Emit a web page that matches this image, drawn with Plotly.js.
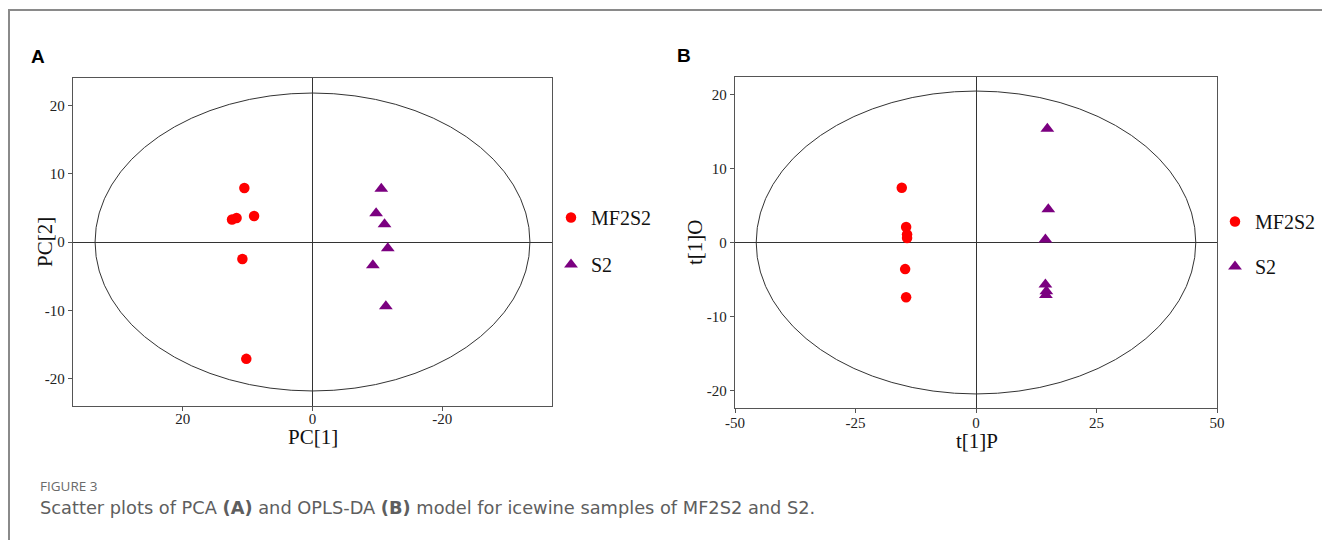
<!DOCTYPE html>
<html>
<head>
<meta charset="utf-8">
<script src="https://cdn.plot.ly/plotly-3.0.1.min.js"></script>
<style>
  html, body { margin: 0; padding: 0; background: #ffffff; }
  #chart { width: 1322px; height: 540px; }
</style>
</head>
<body>
<div id="chart"></div>
<script>
// ---- Panel A: PCA scores ----
const pcaGroups = ["MF2S2", "S2"];
const pcaMF2S2_PC1 = [10.5, 12.4, 11.7, 9.0, 10.8, 10.2];
const pcaMF2S2_PC2 = [7.9, 3.3, 3.5, 3.8, -2.5, -17.1];
const pcaS2_PC1 = [-10.6, -9.8, -11.1, -11.6, -9.3, -11.3];
const pcaS2_PC2 = [7.8, 4.2, 2.6, -0.9, -3.4, -9.4];
const pcaEllipse = { a: 33.5, b: 21.8 };   // Hotelling T2 ellipse half-axes
const pcaXTicks = [20, 0, -20];
const pcaXTickText = ["20", "0", "-20"];
const pcaYTicks = [20, 10, 0, -10, -20];
const pcaYTickText = ["20", "10", "0", "-10", "-20"];

// ---- Panel B: OPLS-DA scores ----
const oplsMF2S2_t1P = [-15.4, -14.5, -14.3, -14.3, -14.7, -14.5];
const oplsMF2S2_t1O = [7.4, 2.1, 1.1, 0.6, -3.6, -7.4];
const oplsS2_t1P = [14.8, 15.0, 14.4, 14.4, 14.6, 14.5];
const oplsS2_t1O = [15.4, 4.5, 0.4, -5.7, -6.6, -7.1];
const oplsEllipse = { a: 45.6, b: 20.5 };
const oplsXTicks = [-50, -25, 0, 25, 50];
const oplsXTickText = ["-50", "-25", "0", "25", "50"];
const oplsYTicks = [20, 10, 0, -10, -20];
const oplsYTickText = ["20", "10", "0", "-10", "-20"];

const W = 1322, H = 540;
const px = v => v / W;
const py = v => 1 - v / H;

const RED = "#ff0000", PURPLE = "#7b0080";
const serif = "Liberation Serif, Times New Roman, serif";

const circleMarker = { symbol: "circle", size: 10.5, color: RED };
const triMarker = { symbol: "triangle-up", size: 12, color: PURPLE };

const traces = [
  { type: "scatter", mode: "markers", name: pcaGroups[0], x: pcaMF2S2_PC1, y: pcaMF2S2_PC2,
    xaxis: "x", yaxis: "y", marker: circleMarker, legend: "legend", legendgroup: "a1" },
  { type: "scatter", mode: "markers", name: pcaGroups[1], x: pcaS2_PC1, y: pcaS2_PC2,
    xaxis: "x", yaxis: "y", marker: triMarker, legend: "legend", legendgroup: "a2" },
  { type: "scatter", mode: "markers", name: pcaGroups[0], x: oplsMF2S2_t1P, y: oplsMF2S2_t1O,
    xaxis: "x2", yaxis: "y2", marker: circleMarker, legend: "legend2", legendgroup: "b1" },
  { type: "scatter", mode: "markers", name: pcaGroups[1], x: oplsS2_t1P, y: oplsS2_t1O,
    xaxis: "x2", yaxis: "y2", marker: triMarker, legend: "legend2", legendgroup: "b2" }
];

const axisCommon = {
  showgrid: false, zeroline: true, zerolinecolor: "#333", zerolinewidth: 1,
  showline: true, mirror: true, linecolor: "#555", linewidth: 1.3,
  ticks: "outside", ticklen: 4, tickcolor: "#555", tickwidth: 1,
  tickmode: "array",
  tickfont: { family: serif, size: 15, color: "#222" },
  fixedrange: true
};

const legendCommon = {
  font: { family: serif, size: 20, color: "#111" },
  bgcolor: "rgba(0,0,0,0)", borderwidth: 0,
  xanchor: "left", yanchor: "top", traceorder: "grouped", tracegroupgap: 18,
  itemwidth: 30
};

const titleFont = { family: serif, size: 21, color: "#111" };

const layout = {
  width: W, height: H,
  margin: { l: 0, r: 0, t: 0, b: 0 },
  paper_bgcolor: "#ffffff", plot_bgcolor: "#ffffff",
  font: { family: serif, size: 20, color: "#111" },
  showlegend: true,
  xaxis: Object.assign({}, axisCommon, {
    domain: [px(73), px(552)], range: [36.9, -36.9], autorange: false,
    tickvals: pcaXTicks, ticktext: pcaXTickText, anchor: "y", ticklabelstandoff: -5
  }),
  yaxis: Object.assign({}, axisCommon, {
    domain: [py(406), py(78)], range: [-24, 24],
    tickvals: pcaYTicks, ticktext: pcaYTickText, anchor: "x"
  }),
  xaxis2: Object.assign({}, axisCommon, {
    domain: [px(735), px(1217)], range: [-50, 50],
    tickvals: oplsXTicks, ticktext: oplsXTickText, anchor: "y2", ticklabelstandoff: -3
  }),
  yaxis2: Object.assign({}, axisCommon, {
    domain: [py(408), py(77)], range: [-22.4, 22.4],
    tickvals: oplsYTicks, ticktext: oplsYTickText, anchor: "x2"
  }),
  legend: Object.assign({}, legendCommon, { x: px(551), y: py(198) }),
  legend2: Object.assign({}, legendCommon, { x: px(1215), y: py(202), tracegroupgap: 16 }),
  shapes: [
    { type: "circle", xref: "x", yref: "y", x0: -pcaEllipse.a, x1: pcaEllipse.a,
      y0: -pcaEllipse.b, y1: pcaEllipse.b, line: { color: "#333", width: 1 }, layer: "below" },
    { type: "circle", xref: "x2", yref: "y2", x0: -oplsEllipse.a, x1: oplsEllipse.a,
      y0: -oplsEllipse.b, y1: oplsEllipse.b, line: { color: "#333", width: 1 }, layer: "below" },
    // page frame
    { type: "line", xref: "paper", yref: "paper", x0: px(8), x1: 1, y0: py(10), y1: py(10),
      line: { color: "#8a8a8a", width: 2 } },
    { type: "line", xref: "paper", yref: "paper", x0: px(9), x1: px(9), y0: py(10), y1: 0,
      line: { color: "#8a8a8a", width: 2 } }
  ],
  annotations: [
    // axis titles
    { text: "PC[1]", xref: "paper", yref: "paper", x: px(313), y: py(437), xanchor: "center", yanchor: "middle",
      showarrow: false, font: titleFont },
    { text: "PC[2]", xref: "paper", yref: "paper", x: px(45), y: py(242), xanchor: "center", yanchor: "middle",
      textangle: -90, showarrow: false, font: titleFont },
    { text: "t[1]P", xref: "paper", yref: "paper", x: px(977), y: py(441), xanchor: "center", yanchor: "middle",
      showarrow: false, font: titleFont },
    { text: "t[1]O", xref: "paper", yref: "paper", x: px(695), y: py(242), xanchor: "center", yanchor: "middle",
      textangle: -90, showarrow: false, font: titleFont },
    // panel labels
    { text: "<b>A</b>", xref: "paper", yref: "paper", x: px(29), y: py(57), xanchor: "left", yanchor: "middle",
      showarrow: false, font: { family: "Liberation Sans, Arial, sans-serif", size: 19, color: "#000" } },
    { text: "<b>B</b>", xref: "paper", yref: "paper", x: px(675), y: py(55), xanchor: "left", yanchor: "middle",
      showarrow: false, font: { family: "Liberation Sans, Arial, sans-serif", size: 19, color: "#000" } },
    // caption
    { text: "FIGURE 3", xref: "paper", yref: "paper", x: px(38), y: py(486), xanchor: "left", yanchor: "middle",
      showarrow: false, font: { family: "Open Sans, sans-serif", size: 13.5, color: "#6a6a6a" } },
    { text: "Scatter plots of PCA <b>(A)</b> and OPLS-DA <b>(B)</b> model for icewine samples of MF2S2 and S2.",
      xref: "paper", yref: "paper", x: px(38), y: py(507), xanchor: "left", yanchor: "middle",
      showarrow: false, font: { family: "DejaVu Sans, sans-serif", size: 17.8, color: "#5e5e5e" } }
  ]
};

Plotly.newPlot("chart", traces, layout, { staticPlot: true, displayModeBar: false });
</script>
</body>
</html>
